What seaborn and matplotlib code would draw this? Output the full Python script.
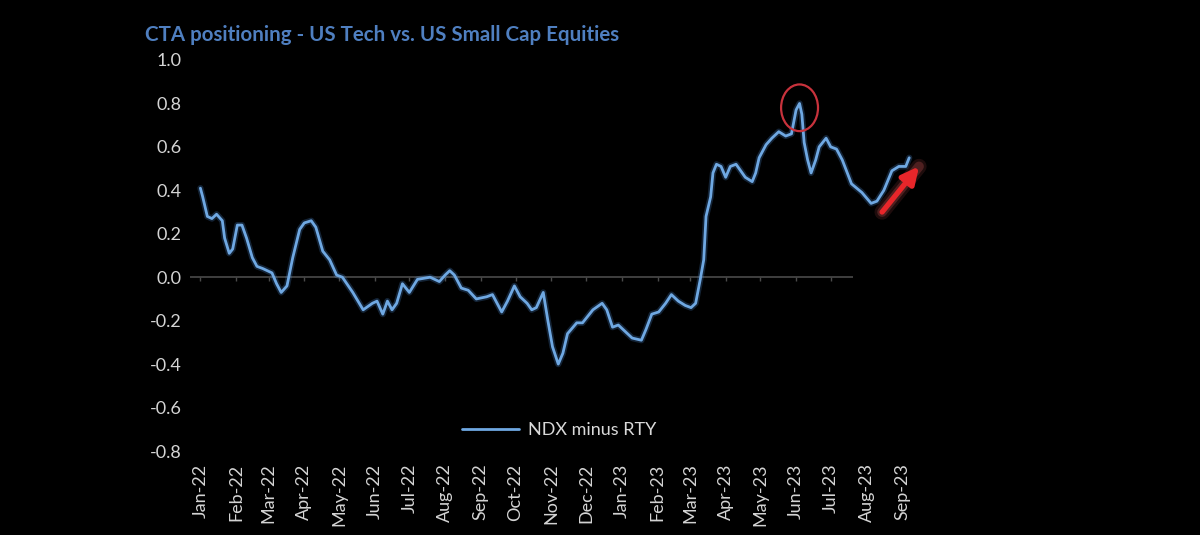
import pandas as pd
import matplotlib.pyplot as plt
import matplotlib.dates as mdates
from matplotlib.patches import Ellipse
import seaborn as sns

# CTA positioning, NDX minus RTY
dates = [
    "2022-01-01", "2022-01-03", "2022-01-07", "2022-01-11", "2022-01-15", "2022-01-20",
    "2022-01-22", "2022-01-26", "2022-01-29", "2022-02-02", "2022-02-06", "2022-02-10",
    "2022-02-15", "2022-02-19", "2022-02-24", "2022-03-04", "2022-03-08", "2022-03-12",
    "2022-03-17", "2022-03-22", "2022-03-28", "2022-04-01", "2022-04-07", "2022-04-11",
    "2022-04-17", "2022-04-23", "2022-04-29", "2022-05-04", "2022-05-13", "2022-05-22",
    "2022-05-30", "2022-06-03", "2022-06-08", "2022-06-12", "2022-06-16", "2022-06-20",
    "2022-06-25", "2022-07-01", "2022-07-08", "2022-07-19", "2022-07-27", "2022-08-01",
    "2022-08-05", "2022-08-09", "2022-08-15", "2022-08-21", "2022-08-28", "2022-09-06",
    "2022-09-11", "2022-09-19", "2022-09-24", "2022-09-30", "2022-10-05", "2022-10-11",
    "2022-10-15", "2022-10-19", "2022-10-25", "2022-10-29", "2022-11-02", "2022-11-07",
    "2022-11-11", "2022-11-15", "2022-11-23", "2022-11-28", "2022-12-07", "2022-12-15",
    "2022-12-19", "2022-12-24", "2022-12-29", "2023-01-02", "2023-01-10", "2023-01-18",
    "2023-01-22", "2023-01-27", "2023-02-02", "2023-02-08", "2023-02-13", "2023-02-19",
    "2023-02-25", "2023-03-02", "2023-03-06", "2023-03-10", "2023-03-13", "2023-03-15",
    "2023-03-19", "2023-03-21", "2023-03-24", "2023-03-28", "2023-04-01", "2023-04-05",
    "2023-04-10", "2023-04-14", "2023-04-18", "2023-04-24", "2023-04-27", "2023-04-30",
    "2023-05-06", "2023-05-11", "2023-05-17", "2023-05-23", "2023-05-28", "2023-06-01",
    "2023-06-04", "2023-06-06", "2023-06-08", "2023-06-11", "2023-06-14", "2023-06-18",
    "2023-06-21", "2023-06-27", "2023-07-01", "2023-07-06", "2023-07-11", "2023-07-19",
    "2023-07-28", "2023-08-05", "2023-08-10", "2023-08-16", "2023-08-23", "2023-08-29",
    "2023-09-04", "2023-09-07",
]
ndx_minus_rty = [
    0.41, 0.37, 0.28, 0.27, 0.29, 0.26,
    0.18, 0.11, 0.13, 0.24, 0.24, 0.18,
    0.09, 0.05, 0.04, 0.02, -0.03, -0.07,
    -0.04, 0.09, 0.22, 0.25, 0.26, 0.23,
    0.12, 0.08, 0.01, 0.00, -0.07, -0.15,
    -0.12, -0.11, -0.17, -0.11, -0.15, -0.12,
    -0.03, -0.07, -0.01, 0.00, -0.02, 0.01,
    0.03, 0.01, -0.05, -0.06, -0.10, -0.09,
    -0.08, -0.16, -0.11, -0.04, -0.09, -0.12,
    -0.15, -0.14, -0.07, -0.20, -0.32, -0.40,
    -0.35, -0.26, -0.21, -0.21, -0.15, -0.12,
    -0.15, -0.23, -0.22, -0.24, -0.28, -0.29,
    -0.24, -0.17, -0.16, -0.12, -0.08, -0.11,
    -0.13, -0.14, -0.12, -0.01, 0.08, 0.28,
    0.37, 0.48, 0.52, 0.51, 0.46, 0.51,
    0.52, 0.49, 0.46, 0.44, 0.48, 0.55,
    0.61, 0.64, 0.67, 0.65, 0.66, 0.77,
    0.80, 0.75, 0.62, 0.54, 0.48, 0.54,
    0.60, 0.64, 0.60, 0.59, 0.54, 0.43,
    0.39, 0.34, 0.35, 0.40, 0.49, 0.51,
    0.51, 0.55,
]

month_ticks = [
    "2022-01-01", "2022-02-01", "2022-03-01", "2022-04-01", "2022-05-01", "2022-06-01",
    "2022-07-01", "2022-08-01", "2022-09-01", "2022-10-01", "2022-11-01", "2022-12-01",
    "2023-01-01", "2023-02-01", "2023-03-01", "2023-04-01", "2023-05-01", "2023-06-01",
    "2023-07-01", "2023-08-01", "2023-09-01",
]
tick_labels = [
    "Jan-22", "Feb-22", "Mar-22", "Apr-22", "May-22", "Jun-22", "Jul-22",
    "Aug-22", "Sep-22", "Oct-22", "Nov-22", "Dec-22", "Jan-23", "Feb-23",
    "Mar-23", "Apr-23", "May-23", "Jun-23", "Jul-23", "Aug-23", "Sep-23",
]
y_ticks = [1.0, 0.8, 0.6, 0.4, 0.2, 0.0, -0.2, -0.4, -0.6, -0.8]

# highlighted peak and trend arrow
peak_date, peak_value = "2023-06-04", 0.78
arrow_start = ("2023-08-13", 0.29)
arrow_end = ("2023-09-17", 0.52)
zero_axis_end = "2023-07-20"

df = pd.DataFrame({"Date": pd.to_datetime(dates), "NDX minus RTY": ndx_minus_rty})
ticks = pd.to_datetime(month_ticks)

sns.set_style("dark", {"axes.facecolor": "black", "figure.facecolor": "black"})
plt.rcParams["font.family"] = ["Lato", "DejaVu Sans"]

fig = plt.figure(figsize=(12, 5.35), dpi=100)
ax = fig.add_axes([190 / 1200, 84 / 535, 740 / 1200, 391 / 535])

# soft glow under the line
ax.plot(df["Date"], df["NDX minus RTY"], color="#4f8fd8", linewidth=4.5, alpha=0.25)
sns.lineplot(data=df, x="Date", y="NDX minus RTY", ax=ax, color="#6fa8e2",
             linewidth=2.0, label="NDX minus RTY")

xmin, xmax = pd.Timestamp("2021-12-23"), pd.Timestamp("2023-09-25")
ax.set_xlim(xmin, xmax)
ax.set_ylim(-0.8, 1.0)

# zero axis with small month ticks
ax.hlines(0, xmin, pd.Timestamp(zero_axis_end), color="#4a4a4a", linewidth=1.2, zorder=1)
ax.vlines(ticks[ticks <= pd.Timestamp(zero_axis_end)], -0.018, 0, color="#4a4a4a",
          linewidth=1.0, zorder=1)

ax.set_xticks(ticks)
ax.set_xticklabels(tick_labels, rotation=90, va="top", ha="center")
ax.set_yticks(y_ticks)
ax.set_yticklabels([f"{v:.1f}" for v in y_ticks])
ax.tick_params(axis="both", length=0, colors="#d4d4d4", labelsize=13)
ax.tick_params(axis="x", pad=9)
ax.tick_params(axis="y", pad=6)
ax.set_xlabel("")
ax.set_ylabel("")
ax.grid(False)
for side in ["top", "right", "bottom", "left"]:
    ax.spines[side].set_visible(False)

# red circle around the peak
ax.add_patch(Ellipse((mdates.date2num(pd.Timestamp(peak_date)), peak_value),
                     width=32, height=0.215, fill=False, edgecolor="#c8323c",
                     linewidth=1.6, zorder=5))

# red trend arrow (glow underneath)
start = (pd.Timestamp(arrow_start[0]), arrow_start[1])
end = (pd.Timestamp(arrow_end[0]), arrow_end[1])
for lw, alpha in [(11, 0.12), (7, 0.22)]:
    ax.annotate("", xy=end, xytext=start,
                arrowprops=dict(arrowstyle="-", color="#ff6a6a", lw=lw, alpha=alpha))
ax.annotate("", xy=end, xytext=start,
            arrowprops=dict(arrowstyle="-|>,head_width=0.5,head_length=1.0",
                            color="#e8262a", lw=3.8))

leg = ax.legend(loc="center left", bbox_to_anchor=(0.345, 0.054), frameon=False,
                fontsize=13, handlelength=3.2, handletextpad=0.5)
for text in leg.get_texts():
    text.set_color("#d9d9d9")

fig.text(145 / 1200, 1 - 35 / 535, "CTA positioning - US Tech vs. US Small Cap Equities",
         color="#4f7fc0", fontsize=14.8, fontweight="bold", va="center", ha="left")

fig.savefig("out.png", dpi=100, facecolor="black")
